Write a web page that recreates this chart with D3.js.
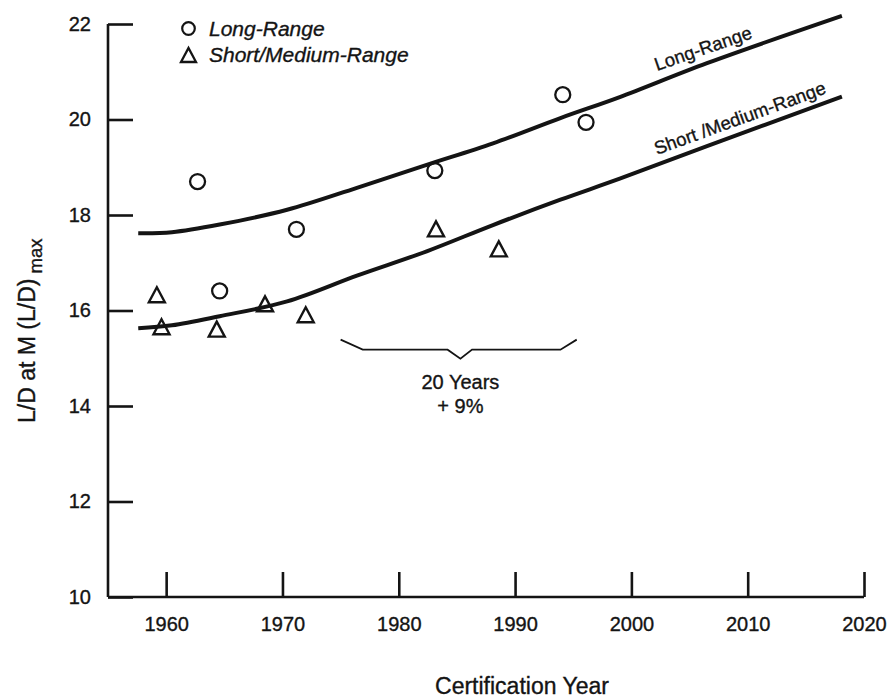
<!DOCTYPE html>
<html>
<head>
<meta charset="utf-8">
<script src="https://cdn.jsdelivr.net/npm/d3@7"></script>
<style>
  html, body { margin: 0; padding: 0; background: #fff; }
  svg { display: block; font-family: "Liberation Sans", Arial, Helvetica, sans-serif; }
  svg text { stroke: #141414; stroke-width: 0.35px; }
</style>
</head>
<body>
<svg id="chart" width="894" height="698"></svg>
<script>
// ---- data ----
const xTicks = [1960, 1970, 1980, 1990, 2000, 2010, 2020];
const yTicks = [10, 12, 14, 16, 18, 20, 22];

const longRangeYears  = [1962.7, 1964.6, 1971.2, 1983.1, 1994.1, 1996.1];
const longRangeLD     = [18.70, 16.41, 17.70, 18.93, 20.52, 19.94];

const shortRangeYears = [1959.2, 1959.6, 1964.35, 1968.5, 1972.0, 1983.2, 1988.6];
const shortRangeLD    = [16.33, 15.66, 15.61, 16.14, 15.91, 17.71, 17.29];

const longTrendYears  = [1957.6, 1960.5, 1964.6, 1970.4, 1976.4, 1982.4, 1988.1, 1993.9, 1999.0, 2006.5, 2018.1];
const longTrendLD     = [17.62, 17.64, 17.80, 18.11, 18.57, 19.05, 19.50, 20.03, 20.47, 21.18, 22.17];

const shortTrendYears = [1957.6, 1960.5, 1964.6, 1970.4, 1976.4, 1982.4, 1988.1, 1993.9, 1999.0, 2006.5, 2018.1];
const shortTrendLD    = [15.63, 15.69, 15.88, 16.19, 16.73, 17.24, 17.79, 18.32, 18.76, 19.44, 20.48];

const braceYears = [1975.0, 1976.9, 1984.2, 1985.3, 1986.3, 1993.9, 1995.3];
const braceLD    = [15.39, 15.18, 15.18, 14.99, 15.18, 15.18, 15.39];

const legendLabels = ["Long-Range", "Short/Medium-Range"];
const curveLabels  = ["Long-Range", "Short /Medium-Range"];
const annotation   = ["20 Years", "+ 9%"];

// ---- layout ----
const svg = d3.select("#chart");
const padL = 108, padR = 864, padT = 24, padB = 597;
const ink = "#141414";

const x = d3.scaleLinear().domain([1955, 2020]).range([padL, padR]);
const y = d3.scaleLinear().domain([10, 22]).range([padB, padT]);

// axes
const yAxis = d3.axisLeft(y).tickValues(yTicks).tickSizeInner(-25).tickSizeOuter(0).tickPadding(17).tickFormat(d3.format("d"));
const xAxis = d3.axisBottom(x).tickValues(xTicks).tickSizeInner(-25).tickSizeOuter(0).tickPadding(20).tickFormat(d3.format("d"));

const gy = svg.append("g").attr("transform", `translate(${padL},0)`).call(yAxis);
const gx = svg.append("g").attr("transform", `translate(0,${padB})`).call(xAxis);

[gx, gy].forEach(g => {
  g.select(".domain").attr("stroke", ink).attr("stroke-width", 2.6);
  g.selectAll(".tick line").attr("stroke", ink).attr("stroke-width", 2.6);
  g.selectAll(".tick text").attr("fill", ink).attr("font-size", 20).attr("font-family", "Liberation Sans, Arial, sans-serif");
});
gx.select(".domain").attr("d", `M${padL},0H${padR}`);
gy.select(".domain").attr("d", `M0,${padT}V${padB}`);

// axis titles
svg.append("text")
  .attr("x", 522).attr("y", 694)
  .attr("text-anchor", "middle").attr("font-size", 23).attr("fill", ink)
  .text("Certification Year");

const yt = svg.append("text")
  .attr("transform", "translate(35,423) rotate(-90)")
  .attr("font-size", 23).attr("fill", ink);
yt.append("tspan").text("L/D at M (L/D)");
yt.append("tspan").attr("font-size", 18.5).attr("dy", 6.5).text(" max");

// trend curves
const line = d3.line().x(d => x(d[0])).y(d => y(d[1])).curve(d3.curveCatmullRom.alpha(0.5));
svg.append("path")
  .datum(d3.zip(longTrendYears, longTrendLD))
  .attr("d", line).attr("fill", "none").attr("stroke", ink).attr("stroke-width", 4);
svg.append("path")
  .datum(d3.zip(shortTrendYears, shortTrendLD))
  .attr("d", line).attr("fill", "none").attr("stroke", ink).attr("stroke-width", 4);

// curve labels
svg.append("text")
  .attr("transform", "translate(657,71) rotate(-19)")
  .attr("font-size", 18.5).attr("fill", ink).text(curveLabels[0]);
svg.append("text")
  .attr("transform", "translate(657,155) rotate(-20)")
  .attr("font-size", 18.5).attr("fill", ink).text(curveLabels[1]);

// markers
const tri = (cx, cy, hw, hh) => `M${cx - hw},${cy + hh}L${cx},${cy - hh}L${cx + hw},${cy + hh}Z`;

svg.append("g").selectAll("circle")
  .data(d3.zip(longRangeYears, longRangeLD))
  .join("circle")
  .attr("cx", d => x(d[0])).attr("cy", d => y(d[1])).attr("r", 7.5)
  .attr("fill", "none").attr("stroke", ink).attr("stroke-width", 2.3);

svg.append("g").selectAll("path")
  .data(d3.zip(shortRangeYears, shortRangeLD))
  .join("path")
  .attr("d", d => tri(x(d[0]), y(d[1]), 8, 7.5))
  .attr("fill", "none").attr("stroke", ink).attr("stroke-width", 2.4).attr("stroke-linejoin", "miter");

// brace annotation
svg.append("path")
  .datum(d3.zip(braceYears, braceLD))
  .attr("d", d3.line().x(d => x(d[0])).y(d => y(d[1])))
  .attr("fill", "none").attr("stroke", ink).attr("stroke-width", 1.8);
svg.append("text").attr("x", x(1985.3)).attr("y", 389)
  .attr("text-anchor", "middle").attr("font-size", 20).attr("fill", ink).text(annotation[0]);
svg.append("text").attr("x", x(1985.3)).attr("y", 413)
  .attr("text-anchor", "middle").attr("font-size", 20).attr("fill", ink).text(annotation[1]);

// legend
const lg = svg.append("g");
lg.append("circle").attr("cx", 188.5).attr("cy", 28.5).attr("r", 6.3)
  .attr("fill", "none").attr("stroke", ink).attr("stroke-width", 2.2);
lg.append("path").attr("d", tri(188.5, 55, 7.5, 7))
  .attr("fill", "none").attr("stroke", ink).attr("stroke-width", 2.3);
lg.append("text").attr("x", 209).attr("y", 36).attr("font-size", 21).attr("font-style", "italic").attr("fill", ink).text(legendLabels[0]);
lg.append("text").attr("x", 209).attr("y", 62).attr("font-size", 21).attr("font-style", "italic").attr("fill", ink).text(legendLabels[1]);
</script>
</body>
</html>
